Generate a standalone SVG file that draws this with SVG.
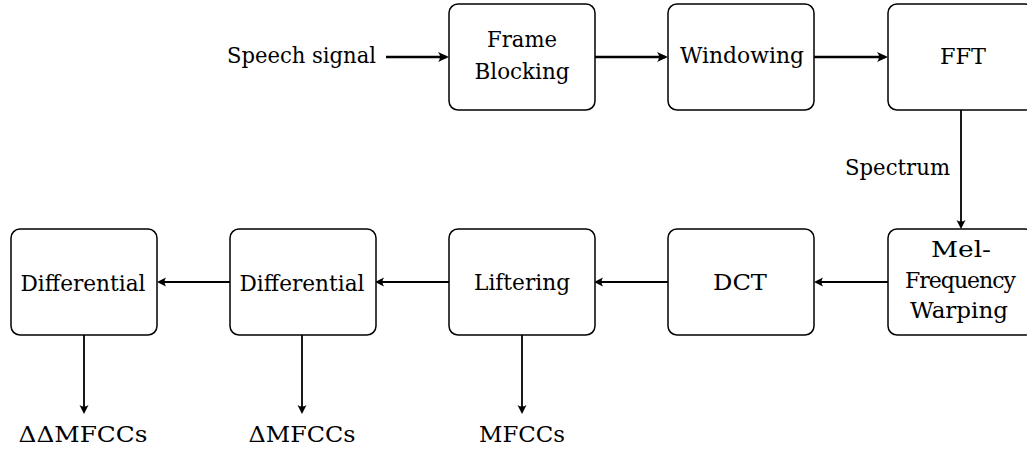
<svg xmlns="http://www.w3.org/2000/svg" width="1027" height="450" viewBox="0 0 1027 450">
  <style>
    .box { fill: #ffffff; stroke: #000000; stroke-width: 1.5; }
    .mid { text-anchor: middle; }
    .thick { fill: none; stroke: #000000; stroke-width: 2.6; }
    .thin { fill: none; stroke: #000000; stroke-width: 1.8; }
    text { font-family: 'DejaVu Serif', serif; font-size: 22px; fill: #000000; }
  </style>
  <defs>
    <marker id="headBig" markerUnits="userSpaceOnUse" markerWidth="14" markerHeight="14" viewBox="-12 -7 14 14" refX="-3" refY="0" orient="auto" overflow="visible">
      <path d="M0,0 L-11,-5 Q-7,0 -11,5 Z" fill="#000000"/>
    </marker>
    <marker id="headSmall" markerUnits="userSpaceOnUse" markerWidth="14" markerHeight="14" viewBox="-12 -7 14 14" refX="-3" refY="0" orient="auto" overflow="visible">
      <path d="M0,0 L-9,-4.5 Q-6,0 -9,4.5 Z" fill="#000000"/>
    </marker>
  </defs>

  <rect width="1027" height="450" fill="#ffffff"/>

  <!-- connectors -->
  <g id="connectors">
    <path class="thick" d="M386,57 L446,57" marker-end="url(#headBig)"/>
    <path class="thick" d="M595,57 L665,57" marker-end="url(#headBig)"/>
    <path class="thick" d="M814,57 L885,57" marker-end="url(#headBig)"/>
    <path class="thin" d="M961,110 L961,226" marker-end="url(#headSmall)"/>
    <path class="thin" d="M888,282 L817,282" marker-end="url(#headSmall)"/>
    <path class="thin" d="M668,282 L597,282" marker-end="url(#headSmall)"/>
    <path class="thin" d="M449,282 L378,282" marker-end="url(#headSmall)"/>
    <path class="thin" d="M230,282 L160,282" marker-end="url(#headSmall)"/>
    <path class="thin" d="M84,335 L84,411" marker-end="url(#headSmall)"/>
    <path class="thin" d="M302,335 L302,411" marker-end="url(#headSmall)"/>
    <path class="thin" d="M522,335 L522,411" marker-end="url(#headSmall)"/>
  </g>

  <!-- free labels -->
  <g id="input-label">
    <text x="227" y="63" textLength="149" lengthAdjust="spacingAndGlyphs">Speech signal</text>
  </g>
  <g id="spectrum-label">
    <text x="845" y="175" textLength="105" lengthAdjust="spacingAndGlyphs">Spectrum</text>
  </g>

  <!-- top row -->
  <g id="frame-blocking">
    <rect class="box" x="449" y="4" width="146" height="106" rx="9"/>
    <text class="mid" x="522" y="47" textLength="70" lengthAdjust="spacingAndGlyphs">Frame</text>
    <text class="mid" x="522" y="79" textLength="95" lengthAdjust="spacingAndGlyphs">Blocking</text>
  </g>
  <g id="windowing">
    <rect class="box" x="668" y="4" width="146" height="106" rx="9"/>
    <text class="mid" x="742" y="63" textLength="124" lengthAdjust="spacingAndGlyphs">Windowing</text>
  </g>
  <g id="fft">
    <rect class="box" x="888" y="4" width="146" height="106" rx="9"/>
    <text class="mid" x="963" y="64" textLength="46" lengthAdjust="spacingAndGlyphs">FFT</text>
  </g>

  <!-- bottom row -->
  <g id="mel-warping">
    <rect class="box" x="888" y="229" width="146" height="106" rx="9"/>
    <text class="mid" x="961" y="257" textLength="60" lengthAdjust="spacingAndGlyphs">Mel-</text>
    <text class="mid" x="960" y="288" letter-spacing="-1">Frequency</text>
    <text class="mid" x="959" y="318" textLength="98" lengthAdjust="spacingAndGlyphs">Warping</text>
  </g>
  <g id="dct">
    <rect class="box" x="668" y="229" width="146" height="106" rx="9"/>
    <text class="mid" x="740" y="290" textLength="54" lengthAdjust="spacingAndGlyphs">DCT</text>
  </g>
  <g id="liftering">
    <rect class="box" x="449" y="229" width="146" height="106" rx="9"/>
    <text class="mid" x="522" y="290" textLength="96" lengthAdjust="spacingAndGlyphs">Liftering</text>
  </g>
  <g id="differential-1">
    <rect class="box" x="230" y="229" width="146" height="106" rx="9"/>
    <text class="mid" x="302" y="291" textLength="125" lengthAdjust="spacingAndGlyphs">Differential</text>
  </g>
  <g id="differential-2">
    <rect class="box" x="11" y="229" width="146" height="106" rx="9"/>
    <text class="mid" x="83" y="291" textLength="125" lengthAdjust="spacingAndGlyphs">Differential</text>
  </g>

  <!-- outputs -->
  <g id="out-ddmfcc">
    <text class="mid" x="83" y="442" textLength="129" lengthAdjust="spacingAndGlyphs">ΔΔMFCCs</text>
  </g>
  <g id="out-dmfcc">
    <text class="mid" x="302" y="442" textLength="107" lengthAdjust="spacingAndGlyphs">ΔMFCCs</text>
  </g>
  <g id="out-mfcc">
    <text class="mid" x="522" y="442" textLength="86" lengthAdjust="spacingAndGlyphs">MFCCs</text>
  </g>
</svg>
